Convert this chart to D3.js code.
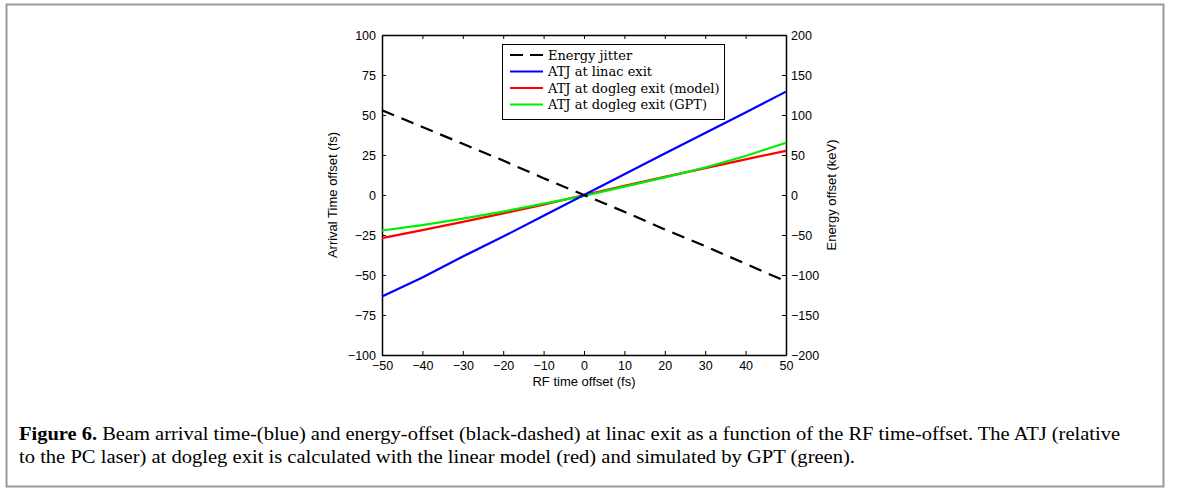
<!DOCTYPE html>
<html>
<head>
<meta charset="utf-8">
<script src="https://cdn.jsdelivr.net/npm/d3@7"></script>
<style>
  body { margin: 0; background: #fff; }
  svg { display: block; }
</style>
</head>
<body>
<svg id="chart" width="1179" height="489"></svg>
<script>
// RF time offset (fs)
var rfOffset = [-50, -40, -30, -20, -10, 0, 10, 20, 30, 40, 50];
// energy jitter (keV, right axis)
var energyJitter = [106, 85, 64, 43, 21, 0, -21, -43, -64, -86, -108];
// arrival time jitter (fs, left axis)
var atjLinac = [-63.5, -51.5, -38.5, -26, -13, 0, 13, 26, 38.7, 51.6, 64.6];
var atjModel = [-27, -22, -16.8, -11.5, -6, 0, 5.8, 11.3, 16.8, 22.3, 27.6];
var atjGPT = [-22.2, -18.8, -14.8, -10.4, -5.4, -0.5, 5.2, 11, 17.2, 24.4, 32.7];

var xTicks = [-50, -40, -30, -20, -10, 0, 10, 20, 30, 40, 50];
var leftTicks = [-100, -75, -50, -25, 0, 25, 50, 75, 100];
var rightTicks = [-200, -150, -100, -50, 0, 50, 100, 150, 200];

var legendNames = ['Energy jitter', 'ATJ at linac exit', 'ATJ at dogleg exit (model)', 'ATJ at dogleg exit (GPT)'];
var legendColors = ['#000', '#0000ff', '#ff0000', '#00ee00'];

var caption1 = ' Beam arrival time-(blue) and energy-offset (black-dashed) at linac exit as a function of the RF time-offset. The ATJ (relative';
var caption2 = 'to the PC laser) at dogleg exit is calculated with the linear model (red) and simulated by GPT (green).';

var svg = d3.select('#chart');

// outer frame of the figure
svg.append('rect')
    .attr('x', 6.5).attr('y', 4.5)
    .attr('width', 1157).attr('height', 482)
    .attr('fill', 'none')
    .attr('stroke', '#999')
    .attr('stroke-width', 2);

var pL = 382, pR = 786, pT = 35, pB = 355;

var x = d3.scaleLinear().domain([-50, 50]).range([pL, pR]);
var yL = d3.scaleLinear().domain([-100, 100]).range([pB, pT]);
var yR = d3.scaleLinear().domain([-200, 200]).range([pB, pT]);

var fmt = d3.format('');
var tickFont = '12.5px "Liberation Sans", Arial, sans-serif';

// axes (ticks point inward, like matlab)
var gB = svg.append('g').attr('transform', 'translate(0,' + pB + ')')
    .call(d3.axisBottom(x).tickValues(xTicks).tickFormat(fmt).tickSizeInner(-4).tickSizeOuter(0).tickPadding(6));
var gT = svg.append('g').attr('transform', 'translate(0,' + pT + ')')
    .call(d3.axisTop(x).tickValues(xTicks).tickFormat('').tickSizeInner(-4).tickSizeOuter(0));
var gL = svg.append('g').attr('transform', 'translate(' + pL + ',0)')
    .call(d3.axisLeft(yL).tickValues(leftTicks).tickFormat(fmt).tickSizeInner(-4).tickSizeOuter(0).tickPadding(6));
var gR = svg.append('g').attr('transform', 'translate(' + pR + ',0)')
    .call(d3.axisRight(yR).tickValues(rightTicks).tickFormat(fmt).tickSizeInner(-4).tickSizeOuter(0).tickPadding(5));

[gB, gT, gL, gR].forEach(function(g) {
    g.selectAll('.domain').attr('stroke', '#000').attr('stroke-width', 1.5);
    g.selectAll('.tick line').attr('stroke', '#000');
    g.selectAll('text').style('font', tickFont).attr('fill', '#000');
});

// lines
var lineL = d3.line().x(function(d) { return x(d[0]); }).y(function(d) { return yL(d[1]); });
var lineR = d3.line().x(function(d) { return x(d[0]); }).y(function(d) { return yR(d[1]); });

function pairs(vals) {
    return rfOffset.map(function(v, i) { return [v, vals[i]]; });
}

svg.append('path').datum(pairs(atjModel)).attr('d', lineL)
    .attr('fill', 'none').attr('stroke', legendColors[2]).attr('stroke-width', 2.2);
svg.append('path').datum(pairs(atjGPT)).attr('d', lineL)
    .attr('fill', 'none').attr('stroke', legendColors[3]).attr('stroke-width', 2.2);
svg.append('path').datum(pairs(atjLinac)).attr('d', lineL)
    .attr('fill', 'none').attr('stroke', legendColors[1]).attr('stroke-width', 2.2);
svg.append('path').datum(pairs(energyJitter)).attr('d', lineR)
    .attr('fill', 'none').attr('stroke', legendColors[0]).attr('stroke-width', 2.2)
    .attr('stroke-dasharray', '13,8');

// axis titles
var labFont = '13px "Liberation Sans", Arial, sans-serif';
svg.append('text').attr('x', (pL + pR) / 2).attr('y', 386)
    .attr('text-anchor', 'middle').style('font', labFont).text('RF time offset (fs)');
svg.append('text').attr('transform', 'translate(337,' + (pT + pB) / 2 + ') rotate(-90)')
    .attr('text-anchor', 'middle').style('font', labFont).text('Arrival Time offset (fs)');
svg.append('text').attr('transform', 'translate(836,' + (pT + pB) / 2 + ') rotate(-90)')
    .attr('text-anchor', 'middle').style('font', labFont).text('Energy offset (keV)');

// legend
var lg = svg.append('g');
lg.append('rect').attr('x', 502.5).attr('y', 44.5).attr('width', 222).attr('height', 75)
    .attr('fill', '#fff').attr('stroke', '#000').attr('stroke-width', 1);
legendNames.forEach(function(name, i) {
    var yy = 55 + i * 16.5;
    lg.append('line').attr('x1', 510).attr('x2', 543).attr('y1', yy).attr('y2', yy)
        .attr('stroke', legendColors[i]).attr('stroke-width', 2.2)
        .attr('stroke-dasharray', i === 0 ? '13,7' : null);
    lg.append('text').attr('x', 548).attr('y', yy + 4.5)
        .style('font', '13px "DejaVu Serif", "Liberation Serif", serif')
        .text(name);
});

// caption
var capFont = '18px "Liberation Serif", "Times New Roman", serif';
var cap1 = svg.append('text').attr('x', 19).attr('y', 440).style('font', capFont)
    .attr('textLength', 1101).attr('lengthAdjust', 'spacingAndGlyphs');
cap1.append('tspan').attr('font-weight', 'bold').text('Figure 6.');
cap1.append('tspan').text(caption1);
svg.append('text').attr('x', 19).attr('y', 463).style('font', capFont)
    .attr('textLength', 836).attr('lengthAdjust', 'spacingAndGlyphs')
    .text(caption2);
</script>
</body>
</html>
